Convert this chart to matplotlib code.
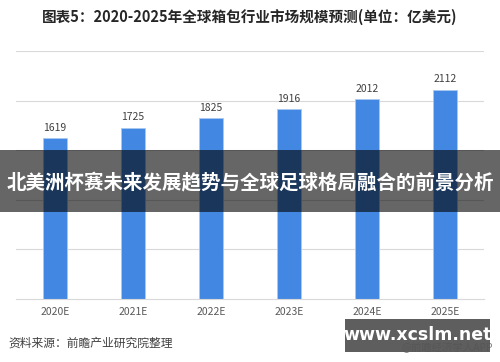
import matplotlib.pyplot as plt
from matplotlib.patches import Rectangle

plt.rcParams['font.family'] = ['Noto Sans CJK SC', 'DejaVu Sans']

years = ["2020E", "2021E", "2022E", "2023E", "2024E", "2025E"]
market_size = [1619, 1725, 1825, 1916, 2012, 2112]

title = "图表5：2020-2025年全球箱包行业市场规模预测(单位：亿美元)"
banner = "北美洲杯赛未来发展趋势与全球足球格局融合的前景分析"
source = "资料来源：前瞻产业研究院整理"
site = "www.xcslm.net"


def plot_chart():
    fig = plt.figure(figsize=(5, 3.62), dpi=100)
    ax = fig.add_axes([0.032, 0.174, 0.936, 0.685])

    x = range(len(years))
    bars = ax.bar(x, market_size, width=0.31, color="#4287e2",
                  edgecolor="#a9c8f2", linewidth=0.6, zorder=2)
    for b, v in zip(bars, market_size):
        ax.text(b.get_x() + b.get_width() / 2, v + 55, str(v),
                ha="center", va="bottom", fontsize=7.5, color="#404040")

    ax.set_xlim(-0.5, 5.5)
    ax.set_ylim(0, 2500)
    ax.set_yticks([500, 1000, 1500, 2000, 2500])
    ax.yaxis.grid(True, color="#d9d9d9", linewidth=0.8, zorder=0)
    ax.tick_params(axis="y", left=False, labelleft=False)
    ax.tick_params(axis="x", length=0, pad=6, labelsize=7.5, labelcolor="#595959")
    ax.set_xticks(list(x))
    ax.set_xticklabels(years)
    for s in ["top", "left", "right"]:
        ax.spines[s].set_visible(False)
    ax.spines["bottom"].set_color("#d9d9d9")

    fig.text(0.5, 0.953, title, ha="center", va="center", fontsize=10.5,
             fontweight="bold", color="#262626")

    # overlay banner
    fig.patches.append(Rectangle((0, 0.414), 1, 0.171, transform=fig.transFigure,
                                 facecolor="black", alpha=0.6, zorder=5))
    fig.text(0.5, 0.494, banner, ha="center", va="center", fontsize=14,
             fontweight="bold", color="white", zorder=6)

    fig.text(0.016, 0.052, source, ha="left", va="center", fontsize=8.5,
             color="#404040")
    fig.text(0.985, 0.042, "@前瞻经济学人APP", ha="right", va="center",
             fontsize=7.5, color="#7f7f7f", zorder=1)
    fig.patches.append(Rectangle((0.69, 0.028), 0.29, 0.091, transform=fig.transFigure,
                                 facecolor="#555555", alpha=0.95, zorder=5))
    fig.text(0.835, 0.075, site, ha="center", va="center", fontsize=12.5,
             fontweight="bold", color="white", family="DejaVu Sans", zorder=6)

    fig.savefig("out.png", dpi=100)


if __name__ == "__main__":
    plot_chart()
